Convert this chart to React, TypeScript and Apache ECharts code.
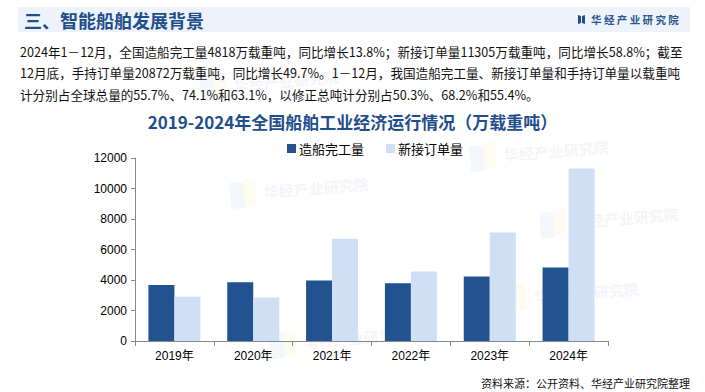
import React, { useEffect, useRef } from "react";
import * as echarts from "echarts";

const categories = ["2019年", "2020年", "2021年", "2022年", "2023年", "2024年"];
const completed = [3672, 3853, 3970, 3786, 4232, 4818];
const newOrders = [2907, 2853, 6707, 4552, 7120, 11305];
const seriesNames = ["造船完工量", "新接订单量"];
const yTicks = [0, 2000, 4000, 6000, 8000, 10000, 12000];

const headerTitle = "三、智能船舶发展背景";
const brand = "华 经 产 业 研 究 院";
const paragraph = [
  "2024年1－12月，全国造船完工量4818万载重吨，同比增长13.8%；新接订单量11305万载重吨，同比增长58.8%；截至",
  "12月底，手持订单量20872万载重吨，同比增长49.7%。1－12月，我国造船完工量、新接订单量和手持订单量以载重吨",
  "计分别占全球总量的55.7%、74.1%和63.1%，以修正总吨计分别占50.3%、68.2%和55.4%。",
];
const chartTitle = "2019-2024年全国船舶工业经济运行情况（万载重吨）";
const sourceNote = "资料来源：公开资料、华经产业研究院整理";
const watermark = "华经产业研究院";

const FONT = '"Noto Sans CJK SC", "Liberation Sans", sans-serif';
const NUMFONT = '"Liberation Sans", "Noto Sans CJK SC", sans-serif';

export default function App() {
  const ref = useRef<HTMLDivElement>(null);
  useEffect(() => {
    if (!ref.current) return;
    const chart = echarts.init(ref.current, null, { renderer: "svg" });
    const wmPositions = [
      [200, 88],
      [230, 195],
      [470, 158],
      [540, 225],
      [500, 300],
      [270, 345],
    ];
    const watermarks = wmPositions.map(([x, y]) => ({
      type: "group",
      x,
      y,
      rotation: 0.08,
      silent: true,
      z: -10,
      children: [
        { type: "rect", shape: { x: 0, y: -12, width: 14, height: 26 }, style: { fill: "rgba(200,215,240,0.2)" } },
        { type: "rect", shape: { x: 14, y: -14, width: 12, height: 26 }, style: { fill: "rgba(250,235,180,0.2)" } },
        {
          type: "text",
          x: 34,
          y: -8,
          style: { text: watermark, fontSize: 15, fontWeight: "bold", fontFamily: FONT, fill: "rgba(215,222,235,0.3)" },
        },
      ],
    }));

    chart.setOption({
      animation: false,
      backgroundColor: "#ffffff",
      textStyle: { fontFamily: FONT },
      title: {
        text: chartTitle,
        left: "center",
        top: 108,
        textStyle: { fontSize: 17, fontWeight: "bold", color: "#1F4E8C", fontFamily: FONT },
      },
      legend: {
        data: seriesNames,
        top: 137,
        left: 282,
        itemWidth: 9,
        itemHeight: 9,
        itemGap: 22,
        icon: "rect",
        textStyle: { fontSize: 13, color: "#000", fontFamily: FONT, padding: [0, 0, 0, -2] },
      },
      grid: { left: 135, right: 97, top: 158, bottom: 51, containLabel: false },
      xAxis: {
        type: "category",
        data: categories,
        axisLine: { lineStyle: { color: "#888", width: 1 } },
        axisTick: { show: true, length: 5, lineStyle: { color: "#888" } },
        axisLabel: { fontSize: 12, color: "#000", margin: 9, fontFamily: NUMFONT },
      },
      yAxis: {
        type: "value",
        min: yTicks[0],
        max: yTicks[yTicks.length - 1],
        interval: 2000,
        axisLine: { show: true, lineStyle: { color: "#888", width: 1 } },
        axisTick: { show: true, length: 4, lineStyle: { color: "#888" } },
        splitLine: { show: false },
        axisLabel: {
          fontSize: 12,
          color: "#000",
          margin: 8,
          fontFamily: NUMFONT,
          formatter: (v: number) => String(v),
        },
      },
      series: [
        {
          name: seriesNames[0],
          type: "bar",
          data: completed,
          barWidth: 26,
          barGap: "0%",
          itemStyle: { color: "#22528F" },
        },
        {
          name: seriesNames[1],
          type: "bar",
          data: newOrders,
          barWidth: 26,
          barGap: "0%",
          itemStyle: { color: "#CFE0F6" },
        },
      ],
      graphic: [
        ...watermarks,
        {
          type: "rect",
          shape: { x: 18, y: 7, width: 672, height: 25 },
          style: { fill: "#EEF3FB" },
          z: -5,
        },
        {
          type: "text",
          x: 24,
          y: 19.5,
          style: {
            text: headerTitle,
            fontSize: 18,
            fontWeight: "bold",
            fontFamily: FONT,
            fill: "#1F4E8C",
            verticalAlign: "middle",
          },
        },
        {
          type: "polygon",
          shape: { points: [[578, 15], [581, 16], [581, 23], [578, 24]] },
          style: { fill: "#1F4E8C" },
        },
        {
          type: "polygon",
          shape: { points: [[582, 16], [585, 15], [585, 24], [582, 23]] },
          style: { fill: "#1F4E8C" },
        },
        {
          type: "text",
          x: 591,
          y: 19.5,
          style: {
            text: brand,
            fontSize: 10.5,
            fontWeight: "bold",
            fontFamily: FONT,
            fill: "#2B558F",
            verticalAlign: "middle",
          },
        },
        ...paragraph.map((line, i) => ({
          type: "text",
          x: 20,
          y: 51 + i * 21.5,
          style: {
            text: line,
            fontSize: 12.6,
            fontFamily: FONT,
            fill: "#111",
            verticalAlign: "middle",
          },
        })),
        {
          type: "text",
          x: 690,
          y: 383,
          style: {
            text: sourceNote,
            fontSize: 11,
            fontFamily: FONT,
            fill: "#111",
            align: "right",
            verticalAlign: "middle",
          },
        },
      ],
    });
    return () => chart.dispose();
  }, []);
  return <div ref={ref} style={{ width: 705, height: 392, position: "fixed", left: 0, top: 0 }} />;
}
